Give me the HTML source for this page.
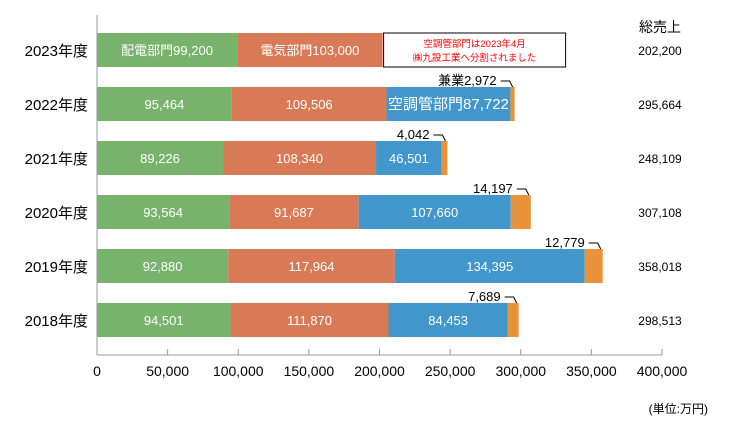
<!DOCTYPE html>
<html><head><meta charset="utf-8"><style>
body{margin:0;background:#fff;}
svg text{font-family:"Liberation Sans","Noto Sans CJK JP",sans-serif;}
</style></head><body>
<svg id="c" width="732" height="426" xmlns="http://www.w3.org/2000/svg"></svg>
<script>
const years=["2023年度","2022年度","2021年度","2020年度","2019年度","2018年度"];
const haiden=[99200,95464,89226,93564,92880,94501];
const denki=[103000,109506,108340,91687,117964,111870];
const kucho=[0,87722,46501,107660,134395,84453];
const kengyo=[0,2972,4042,14197,12779,7689];
const totals=[202200,295664,248109,307108,358018,298513];
const ticks=[0,50000,100000,150000,200000,250000,300000,350000,400000];
const NS="http://www.w3.org/2000/svg";
const svg=document.getElementById('c');
const x0=97,x1=662,vmax=400000;
const X=v=>x0+(x1-x0)*v/vmax;
const Y=i=>50+i*54;
const bh=34;
function el(t,a,txt){const e=document.createElementNS(NS,t);for(const k in a)e.setAttribute(k,a[k]);if(txt!==undefined)e.textContent=txt;svg.appendChild(e);return e;}
const fmt=v=>v.toLocaleString('en-US');
const cols=["#77b36b","#d97a56","#4196cb","#e8923a"];
years.forEach((yr,i)=>{
  const vals=[haiden[i],denki[i],kucho[i],kengyo[i]];
  let acc=0;const yc=Y(i);
  vals.forEach((v,s)=>{
    if(v<=0)return;
    const r=el('rect',{x:X(acc),y:yc-bh/2,width:X(acc+v)-X(acc),height:bh,fill:cols[s]});
    
    
    if(s<3){
      let lbl=fmt(v);
      if(i===0&&s===0)lbl="配電部門"+lbl;
      if(i===0&&s===1)lbl="電気部門"+lbl;
      if(i===1&&s===2)lbl="空調管部門"+lbl;
      const t=el('text',{x:(X(acc)+X(acc+v))/2,y:yc+5,'text-anchor':'middle',fill:'#fff','font-size':(i===1&&s===2)?15:13},lbl);
      
      
    }else{
      const ex=X(acc+v)-2, ty=yc-bh/2-6;
      const lbl=(i===1?"兼業":"")+fmt(v);
      const t=el('text',{x:ex-16,y:ty+4,'text-anchor':'end',fill:'#000','font-size':13},lbl);
      
      
      const l=el('polyline',{points:`${ex-12},${ty} ${ex-3},${ty} ${ex},${yc-bh/2}`,fill:'none',stroke:'#000','stroke-width':1});
      
      
    }
    acc+=v;
  });
  const yl=el('text',{x:88,y:yc+6,'text-anchor':'end','font-size':15,fill:'#000'},yr);
  
  
  const tt=el('text',{x:660,y:yc+5,'text-anchor':'middle','font-size':12,fill:'#000'},fmt(totals[i]));
  
  
});
const h=el('text',{x:660,y:32,'text-anchor':'middle','font-size':14,fill:'#000'},"総売上");


const bx=el('rect',{x:X(202200)+1,y:Y(0)-bh/2,width:182,height:bh,fill:'#fff',stroke:'#000','stroke-width':1});


const n1=el('text',{x:X(202200)+92,y:Y(0)-3,'text-anchor':'middle','font-size':9.5,fill:'#f00'},"空調管部門は2023年4月");


const n2=el('text',{x:X(202200)+92,y:Y(0)+11,'text-anchor':'middle','font-size':9.5,fill:'#f00'},"㈱九設工業へ分割されました");


const ax=el('line',{x1:x0,y1:15,x2:x0,y2:355,stroke:'#999','stroke-width':1});


const bl=el('line',{x1:x0,y1:355,x2:x1,y2:355,stroke:'#999','stroke-width':1});


ticks.forEach(v=>{
  const tm=el('line',{x1:X(v),y1:349,x2:X(v),y2:355,stroke:'#999','stroke-width':1});
  
  
  const tl=el('text',{x:X(v),y:376,'text-anchor':'middle','font-size':14,fill:'#000'},fmt(v));
  
  
});
const u=el('text',{x:708,y:413,'text-anchor':'end','font-size':12,fill:'#000'},"(単位:万円)");


</script>
</body></html>
